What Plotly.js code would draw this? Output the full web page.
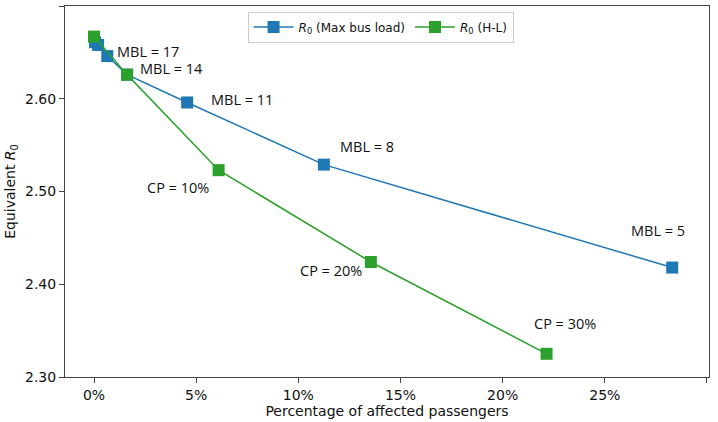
<!DOCTYPE html>
<html>
<head>
<meta charset="utf-8">
<script src="https://cdn.plot.ly/plotly-3.0.1.min.js"></script>
<style>html,body{margin:0;padding:0;background:#fff;}#chart{width:718px;height:422px;}</style>
</head>
<body>
<div id="chart"></div>
<script>
// Data (percent of affected passengers, equivalent R0)
const mblPct = [0.05, 0.2, 0.65, 1.62, 4.56, 11.25, 28.3];
const mblR0 = [2.661, 2.658, 2.646, 2.626, 2.596, 2.529, 2.418];
const mblLabels = ["", "MBL = 17", "MBL = 14", "", "MBL = 11", "MBL = 8", "MBL = 5"];
const hlPct = [0.0, 1.62, 6.1, 13.55, 22.15];
const hlR0 = [2.667, 2.626, 2.523, 2.424, 2.325];
const hlLabels = ["", "", "CP = 10%", "CP = 20%", "CP = 30%"];
const xTicks = [0, 5, 10, 15, 20, 25, 30];
const yTicks = [2.30, 2.40, 2.50, 2.60, 2.70];

const blue = '#1f77b4', green = '#2ca02c';
const traces = [
  {x: mblPct, y: mblR0, mode: 'lines+markers', name: '<i>R</i><sub>0</sub> (Max bus load)',
   line: {color: blue, width: 1.5}, marker: {symbol: 'square', size: 12, color: blue}},
  {x: hlPct, y: hlR0, mode: 'lines+markers', name: '<i>R</i><sub>0</sub> (H-L)',
   line: {color: green, width: 1.5}, marker: {symbol: 'square', size: 12, color: green}}
];

// label offsets in pixels (dx to label's left edge, dy down), style only
const mblOff = [null, [17, 7], [31, 12], null, [22, -3], [14, -18], [-43, -37]];
const hlOff = [null, null, [-74, 17], [-73, 9], [-15, -30]];
const annotations = [];
const labelFont = {family: 'Open Sans, Liberation Sans, sans-serif', size: 14.5, color: '#111'};
mblLabels.forEach((t, i) => {
  if (!t) return;
  annotations.push({x: mblPct[i], y: mblR0[i], text: t, showarrow: false, xanchor: 'left',
    xshift: mblOff[i][0], yshift: -mblOff[i][1], font: labelFont});
});
hlLabels.forEach((t, i) => {
  if (!t) return;
  annotations.push({x: hlPct[i], y: hlR0[i], text: t, showarrow: false, xanchor: 'left',
    xshift: hlOff[i][0], yshift: -hlOff[i][1], font: labelFont});
});

const axisCommon = {showline: true, linecolor: '#444', linewidth: 1, mirror: true,
  ticks: 'outside', ticklen: 5, tickcolor: '#444', showgrid: false, zeroline: false,
  tickfont: {family: 'DejaVu Sans', size: 14, color: '#111'}};

const layout = {
  width: 718, height: 422,
  margin: {l: 65, r: 9, t: 6, b: 45},
  paper_bgcolor: '#fff', plot_bgcolor: '#fff',
  font: {family: 'DejaVu Sans', size: 14, color: '#111'},
  xaxis: Object.assign({}, axisCommon, {range: [-1.42, 30.1], tickvals: xTicks,
    ticktext: xTicks.map(v => v + '%'),
    title: {text: 'Percentage of affected passengers', font: {family: 'DejaVu Sans', size: 14}, standoff: 4}}),
  yaxis: Object.assign({}, axisCommon, {range: [2.30, 2.70], tickvals: yTicks,
    ticktext: yTicks.map(v => v.toFixed(2)),
    title: {text: 'Equivalent <i>R</i><sub>0</sub>', font: {family: 'DejaVu Sans', size: 14}, standoff: 6}}),
  showlegend: true,
  legend: {orientation: 'h', x: 0.49, xanchor: 'center', y: 0.985, yanchor: 'top',
    bordercolor: '#ccc', borderwidth: 1, bgcolor: 'rgba(255,255,255,0.9)',
    font: {family: 'DejaVu Sans', size: 12, color: '#111'}, itemwidth: 40},
  annotations: annotations
};

Plotly.newPlot('chart', traces, layout, {displayModeBar: false, staticPlot: true});
</script>
</body>
</html>
